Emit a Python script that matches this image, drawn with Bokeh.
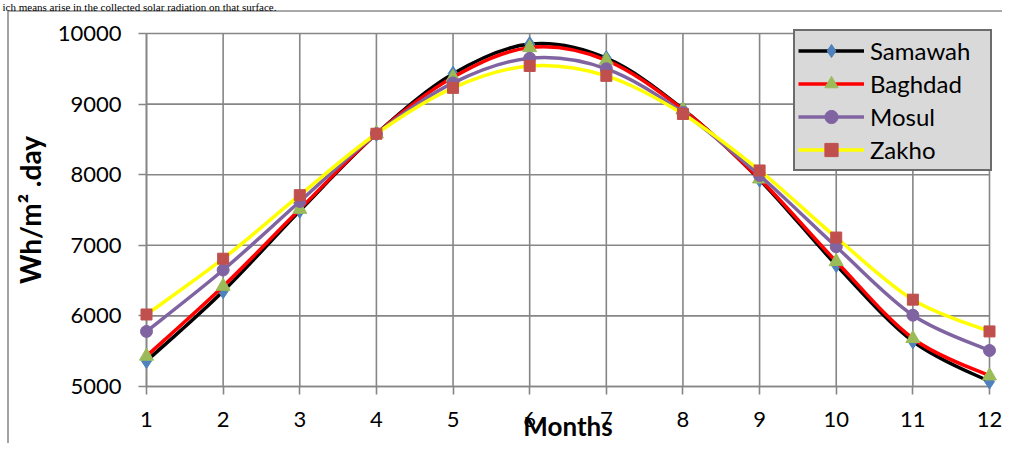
from bokeh.plotting import figure
from bokeh.models import Range1d, Legend, LegendItem, FixedTicker, Label
from bokeh.embed import file_html
from bokeh.resources import INLINE

# ---- data ----
months = [1, 2, 3, 4, 5, 6, 7, 8, 9, 10, 11, 12]
samawah = [5360, 6350, 7490, 8580, 9430, 9850, 9650, 8930, 7930, 6720, 5640, 5070]
baghdad = [5430, 6420, 7510, 8580, 9380, 9800, 9620, 8920, 7940, 6770, 5680, 5150]
mosul = [5780, 6650, 7620, 8580, 9300, 9650, 9500, 8880, 7990, 6980, 6010, 5510]
zakho = [6020, 6810, 7710, 8580, 9230, 9540, 9400, 8860, 8060, 7110, 6230, 5780]
y_ticks = [5000, 6000, 7000, 8000, 9000, 10000]
series_names = ["Samawah", "Baghdad", "Mosul", "Zakho"]
caption = "ich means arise in the collected solar radiation on that surface."

# ---- layout (pixels, figure coordinates) ----
FIG_W, FIG_H = 1002, 443
X1_PX, X12_PX = 146, 989        # x of month 1 and 12
Y_TOP_PX, Y_BOT_PX = 33, 386    # y of 10000 and 5000

px_x = (X12_PX - X1_PX) / (months[-1] - months[0])
px_y = (Y_BOT_PX - Y_TOP_PX) / (y_ticks[-1] - y_ticks[0])


def px2x(px):
    return months[0] + (px - X1_PX) / px_x


def px2y(py):
    return y_ticks[0] + (Y_BOT_PX - py) / px_y


p = figure(width=FIG_W, height=FIG_H, output_backend="svg", toolbar_location=None,
           x_range=Range1d(px2x(0), px2x(FIG_W)), y_range=Range1d(px2y(FIG_H), px2y(0)),
           min_border_left=0, min_border_right=0, min_border_top=0, min_border_bottom=0)
p.outline_line_color = None
p.xgrid.visible = False
p.ygrid.visible = False
p.background_fill_color = "white"
p.border_fill_color = "white"

GRID = "#868686"
FONT = "Lato"

# outer chart border (left and top)
p.segment(x0=[px2x(7.5), px2x(7.5)], y0=[px2y(10.5), px2y(10.5)],
          x1=[px2x(7.5), px2x(FIG_W + 10)], y1=[px2y(FIG_H + 10), px2y(10.5)],
          line_color="#8c8c8c", line_width=1.6)

# document text above the chart
p.add_layout(Label(x=px2x(2), y=px2y(0), text=caption, text_font="Liberation Serif",
                   text_font_size="11px", text_color="black", text_baseline="top"))

# grid lines
p.segment(x0=[months[0]] * len(y_ticks), x1=[months[-1]] * len(y_ticks), y0=y_ticks, y1=y_ticks,
          line_color=GRID, line_width=1.6)
p.segment(x0=months, x1=months, y0=[y_ticks[0]] * len(months), y1=[y_ticks[-1]] * len(months),
          line_color=GRID, line_width=1.6)

# axes
for ax in (p.xaxis[0], p.yaxis[0]):
    ax.axis_line_color = GRID
    ax.axis_line_width = 1.6
    ax.major_tick_line_color = GRID
    ax.major_tick_line_width = 1.6
    ax.major_tick_in = 0
    ax.major_tick_out = 8
    ax.minor_tick_line_color = None
    ax.major_label_text_font = FONT
    ax.major_label_text_font_size = "22px"
    ax.major_label_text_color = "black"
    ax.axis_label_text_font = FONT
    ax.axis_label_text_font_style = "bold"
    ax.axis_label_text_font_size = "28px"
    ax.axis_label_text_color = "black"

p.xaxis.fixed_location = y_ticks[0]
p.xaxis.bounds = (months[0], months[-1])
p.xaxis.ticker = FixedTicker(ticks=months)
p.xaxis.major_label_standoff = 17
p.xaxis.axis_label = "Months"
p.xaxis.axis_label_text_font_size = "26px"
p.xaxis.axis_label_standoff = -20

p.yaxis.fixed_location = months[0]
p.yaxis.bounds = (y_ticks[0], y_ticks[-1])
p.yaxis.ticker = FixedTicker(ticks=y_ticks)
p.yaxis.major_label_standoff = 17
p.yaxis.axis_label = "Wh/m\u00b2 .day"
p.yaxis.axis_label_standoff = 8


def smooth(xs, ys):
    """Bezier control points for a Catmull-Rom style smoothed line through the data."""
    n = len(xs)
    ex = [xs[0]] + list(xs) + [xs[-1]]
    ey = [ys[0]] + list(ys) + [ys[-1]]
    out = dict(x0=[], y0=[], x1=[], y1=[], cx0=[], cy0=[], cx1=[], cy1=[])
    for i in range(n - 1):
        p0x, p0y = ex[i], ey[i]
        p1x, p1y = ex[i + 1], ey[i + 1]
        p2x, p2y = ex[i + 2], ey[i + 2]
        p3x, p3y = ex[i + 3], ey[i + 3]
        out["x0"].append(p1x); out["y0"].append(p1y)
        out["x1"].append(p2x); out["y1"].append(p2y)
        out["cx0"].append(p1x + (p2x - p0x) / 6); out["cy0"].append(p1y + (p2y - p0y) / 6)
        out["cx1"].append(p2x - (p3x - p1x) / 6); out["cy1"].append(p2y - (p3y - p1y) / 6)
    return out


styles = [
    (samawah, "#000000", "diamond", "#4F81BD", 15),
    (baghdad, "#FF0000", "triangle", "#9BBB59", 14),
    (mosul, "#8064A2", "circle", "#8064A2", 12),
    (zakho, "#FFFF00", "square", "#C0504D", 11),
]

items = []
for name, (vals, lc, mk, mc, ms) in zip(series_names, styles):
    b = smooth(months, vals)
    br = p.bezier(**b, line_color=lc, line_width=3.5, level="overlay")
    sr = p.scatter(months, vals, marker=mk, size=ms, fill_color=mc, line_color=mc, line_width=1,
                   level="overlay")
    items.append(LegendItem(label=name, renderers=[br, sr]))

# legend box: x 793..990, y 33..171 (location = bottom-left offset from frame bottom-left)
legend = Legend(items=items, location=(793, FIG_H - 171),
                background_fill_color="#D9D9D9", background_fill_alpha=1.0,
                border_line_color="black", border_line_width=2,
                padding=3, spacing=0, margin=0,
                label_height=33, glyph_height=33, glyph_width=66, label_standoff=6,
                label_width=117,
                label_text_font=FONT, label_text_font_size="24px", label_text_color="black")
p.add_layout(legend, "center")

open("out.html", "w").write(file_html(p, INLINE))
